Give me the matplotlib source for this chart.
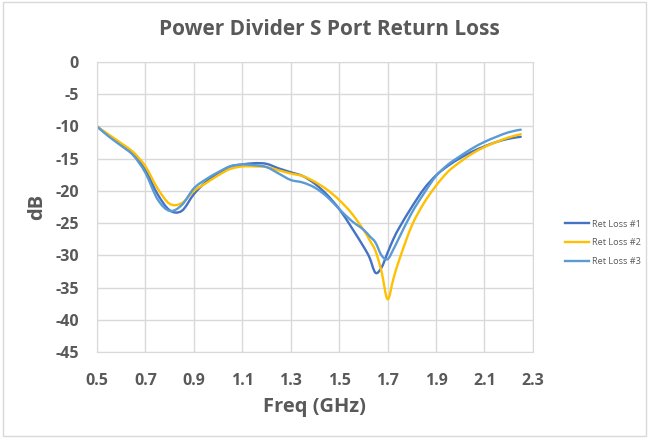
import matplotlib.pyplot as plt
from matplotlib.patches import Rectangle, PathPatch
from matplotlib.path import Path
from matplotlib.lines import Line2D

# Frequency points (GHz) shared by all three traces
freq = [0.50, 0.55, 0.60, 0.65, 0.70, 0.75, 0.80, 0.85, 0.90, 0.95,
        1.00, 1.05, 1.10, 1.15, 1.20, 1.25, 1.30, 1.35, 1.40, 1.45,
        1.50, 1.55, 1.60, 1.625, 1.65, 1.675, 1.70, 1.725, 1.75, 1.80,
        1.85, 1.90, 1.95, 2.00, 2.05, 2.10, 2.15, 2.20, 2.25]

ret_loss_1 = [-10.0, -11.5, -12.8, -14.2, -16.8, -20.5, -23.0, -23.1, -20.5, -18.6,
              -17.3, -16.2, -15.9, -15.7, -15.8, -16.5, -17.1, -17.7, -18.9, -20.6,
              -22.8, -25.6, -28.6, -30.3, -32.7, -31.9, -29.6, -27.4, -25.6, -22.5,
              -19.7, -17.6, -16.1, -14.9, -13.9, -13.1, -12.4, -11.9, -11.6]

ret_loss_2 = [-10.0, -11.3, -12.6, -14.0, -16.2, -19.6, -22.0, -21.9, -20.0, -18.8,
              -17.6, -16.6, -16.2, -16.2, -16.3, -16.8, -17.3, -17.7, -18.6, -19.8,
              -21.4, -23.4, -26.0, -27.6, -29.3, -32.5, -36.8, -33.5, -30.5, -25.4,
              -21.9, -19.2, -17.0, -15.5, -14.2, -13.2, -12.4, -11.7, -11.2]

ret_loss_3 = [-10.0, -11.6, -13.0, -14.5, -17.2, -21.3, -23.1, -22.2, -19.6, -18.2,
              -17.1, -16.2, -15.9, -16.0, -16.3, -17.3, -18.3, -18.7, -19.5, -20.9,
              -22.8, -24.6, -26.0, -27.0, -28.0, -30.0, -30.6, -29.0, -27.1, -23.4,
              -20.4, -17.7, -15.9, -14.6, -13.4, -12.4, -11.6, -10.9, -10.5]

labels = ['Ret Loss #1', 'Ret Loss #2', 'Ret Loss #3']
x_ticks = [0.5, 0.7, 0.9, 1.1, 1.3, 1.5, 1.7, 1.9, 2.1, 2.3]
y_ticks = [0, -5, -10, -15, -20, -25, -30, -35, -40, -45]


def smooth_path(xs, ys, k=1 / 6):
    # Excel-style smoothed line: cubic Bezier segments through the data points
    verts = [(xs[0], ys[0])]
    codes = [Path.MOVETO]
    n = len(xs)
    for i in range(n - 1):
        x0, y0 = xs[max(i - 1, 0)], ys[max(i - 1, 0)]
        x1, y1 = xs[i], ys[i]
        x2, y2 = xs[i + 1], ys[i + 1]
        x3, y3 = xs[min(i + 2, n - 1)], ys[min(i + 2, n - 1)]
        c1 = (x1 + (x2 - x0) * k, y1 + (y2 - y0) * k)
        c2 = (x2 - (x3 - x1) * k, y2 - (y3 - y1) * k)
        verts += [c1, c2, (x2, y2)]
        codes += [Path.CURVE4] * 3
    return Path(verts, codes)


plt.rcParams['font.family'] = ['Open Sans', 'DejaVu Sans']
gray = '#595959'

fig = plt.figure(figsize=(6.49, 4.38), dpi=100)
ax = fig.add_axes([0.1495, 0.1963, 0.6715, 0.6621])

colors = ['#4472C4', '#FFC000', '#5B9BD5']
handles = []
for series, lab, c in zip([ret_loss_1, ret_loss_2, ret_loss_3], labels, colors):
    ax.add_patch(PathPatch(smooth_path(freq, series), facecolor='none',
                           edgecolor=c, linewidth=1.7, capstyle='round'))
    handles.append(Line2D([], [], color=c, linewidth=1.7, label=lab))

ax.set_xlim(0.5, 2.3)
ax.set_ylim(-45, 0)
ax.set_xticks(x_ticks)
ax.set_xticklabels([f'{t:.1f}' for t in x_ticks])
ax.set_yticks(y_ticks)
ax.set_yticklabels([str(t) for t in y_ticks])
ax.tick_params(length=0, labelsize=11.5, colors=gray)
ax.tick_params(axis='x', pad=15)
ax.tick_params(axis='y', pad=13)
for lbl in ax.get_xticklabels() + ax.get_yticklabels():
    lbl.set_fontweight('bold')

ax.grid(True, color='#D9D9D9', linewidth=1)
ax.set_axisbelow(True)
for s in ax.spines.values():
    s.set_color('#D9D9D9')

fig.text(0.508, 0.932, 'Power Divider S Port Return Loss', fontsize=15,
         fontweight='bold', color=gray, ha='center', va='center')
ax.set_xlabel('Freq (GHz)', fontsize=14.5, fontweight='bold', color=gray, labelpad=6)
ax.set_ylabel('dB', fontsize=14.5, fontweight='bold', color=gray, labelpad=6)

ax.legend(handles=handles, loc='center left', bbox_to_anchor=(1.055, 0.377),
          frameon=False, fontsize=6.6, labelcolor=gray, handlelength=2.6,
          handletextpad=0.3, labelspacing=1.05)

# light chart-area border
fig.patches.append(Rectangle((0.004, 0.004), 0.992, 0.992, transform=fig.transFigure,
                             fill=False, edgecolor='#D9D9D9', linewidth=1))

plt.savefig('out.png', dpi=100)
